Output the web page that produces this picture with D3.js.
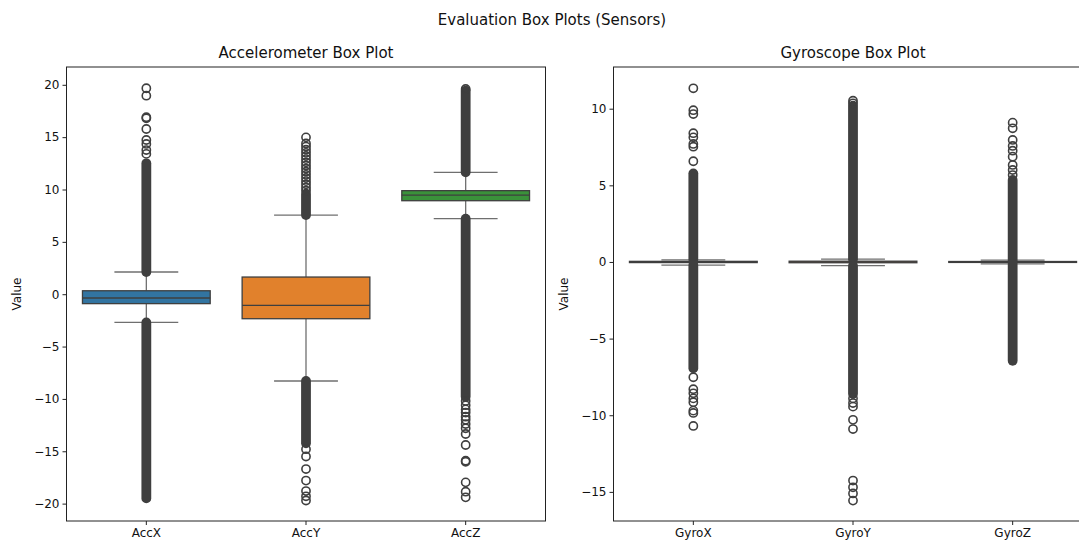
<!DOCTYPE html>
<html>
<head>
<meta charset="utf-8">
<script src="https://cdn.jsdelivr.net/npm/d3@7"></script>
<style>
  body { margin: 0; background: #fff; }
  text { font-family: "DejaVu Sans", sans-serif; fill: #111; }
</style>
</head>
<body>
<script>
// Accelerometer
var accCategories = ["AccX", "AccY", "AccZ"];
var accQ1 = [-0.90, -2.34, 8.93];
var accMedian = [-0.36, -1.06, 9.47];
var accQ3 = [0.33, 1.64, 9.89];
var accWhiskerLow = [-2.69, -8.29, 7.21];
var accWhiskerHigh = [2.12, 7.56, 11.64];
// solid runs of overlapping fliers, [from, to]
var accDenseOutliers = [
    [[2.12, 12.5], [-19.5, -2.69]],
    [[7.56, 9.6], [-14.24, -8.29]],
    [[11.64, 19.45], [-9.8, 7.21]]
];
var accOutliers = [
    [13.4, 13.77, 14.35, 14.73, 15.78, 16.8, 16.9, 18.96, 19.67],
    [9.9, 10.2, 10.5, 10.8, 11.1, 11.4, 11.7, 12.0, 12.3, 12.6, 12.9, 13.2, 13.5, 13.8, 14.1, 14.4, 14.98,
     -14.8, -15.5, -16.7, -17.8, -18.8, -19.3, -19.7],
    [19.6, -10.2, -10.6, -11.0, -11.3, -11.7, -12.0, -12.4, -12.8, -13.35, -14.4, -15.9, -16.0,
     -17.97, -18.86, -19.4]
];
var accTicks = [-20, -15, -10, -5, 0, 5, 10, 15, 20];

// Gyroscope
var gyroCategories = ["GyroX", "GyroY", "GyroZ"];
var gyroQ1 = [-0.04, -0.05, -0.03];
var gyroMedian = [0.0, 0.0, 0.0];
var gyroQ3 = [0.04, 0.05, 0.03];
var gyroWhiskerLow = [-0.2, -0.24, -0.12];
var gyroWhiskerHigh = [0.14, 0.18, 0.12];
var gyroDenseOutliers = [
    [[0.14, 5.78], [-6.93, -0.2]],
    [[0.18, 10.2], [-8.6, -0.24]],
    [[0.12, 5.35], [-6.45, -0.12]]
];
var gyroOutliers = [
    [6.57, 7.52, 7.7, 8.13, 8.4, 9.65, 9.9, 11.33,
     -7.52, -8.3, -8.57, -8.9, -9.15, -9.7, -9.85, -10.7],
    [10.35, 10.52, -8.9, -9.2, -9.44,
     -10.3, -10.9, -14.26, -14.7, -15.1, -15.57],
    [5.67, 6.0, 6.33, 6.87, 7.26, 7.57, 7.96, 8.72, 9.09]
];
var gyroTicks = [-15, -10, -5, 0, 5, 10];

var palette = ["#3274a1", "#e1812c", "#3a923a"];
var lineColor = "#3f3f3f";

var W = 1079, H = 542;
var svg = d3.select("body").append("svg")
    .attr("width", W)
    .attr("height", H);

svg.append("text")
    .attr("x", 552)
    .attr("y", 25)
    .attr("text-anchor", "middle")
    .style("font-size", "15px")
    .text("Evaluation Box Plots (Sensors)");

function boxPanel(opt) {
    var top = 67, bottom = 521;
    var x = d3.scaleBand()
        .domain(opt.categories)
        .range([opt.left, opt.right]);
    var y = d3.scaleLinear()
        .domain(opt.domain)
        .range([bottom, top]);
    var bw = x.bandwidth();
    var g = svg.append("g");

    // title
    g.append("text")
        .attr("x", (opt.left + opt.right) / 2)
        .attr("y", 58)
        .attr("text-anchor", "middle")
        .style("font-size", "15px")
        .text(opt.title);

    var items = g.selectAll("g.item")
        .data(opt.categories)
        .enter()
        .append("g")
        .attr("class", "item");

    // whiskers
    items.append("line")
        .attr("x1", function(d) { return x(d) + bw / 2; })
        .attr("x2", function(d) { return x(d) + bw / 2; })
        .attr("y1", function(d, i) { return y(opt.whiskerHigh[i]); })
        .attr("y2", function(d, i) { return y(opt.q3[i]); })
        .attr("stroke", lineColor).attr("stroke-width", 1.3).attr("stroke-opacity", 0.75);
    items.append("line")
        .attr("x1", function(d) { return x(d) + bw / 2; })
        .attr("x2", function(d) { return x(d) + bw / 2; })
        .attr("y1", function(d, i) { return y(opt.q1[i]); })
        .attr("y2", function(d, i) { return y(opt.whiskerLow[i]); })
        .attr("stroke", lineColor).attr("stroke-width", 1.3).attr("stroke-opacity", 0.75);

    // caps
    [opt.whiskerHigh, opt.whiskerLow].forEach(function(arr) {
        items.append("line")
            .attr("x1", function(d) { return x(d) + bw * 0.3; })
            .attr("x2", function(d) { return x(d) + bw * 0.7; })
            .attr("y1", function(d, i) { return y(arr[i]); })
            .attr("y2", function(d, i) { return y(arr[i]); })
            .attr("stroke", lineColor).attr("stroke-width", 1.3).attr("stroke-opacity", 0.75);
    });

    // boxes
    items.append("rect")
        .attr("x", function(d) { return x(d) + bw * 0.1; })
        .attr("width", bw * 0.8)
        .attr("y", function(d, i) { return y(opt.q3[i]); })
        .attr("height", function(d, i) { return Math.max(y(opt.q1[i]) - y(opt.q3[i]), 0.5); })
        .attr("fill", function(d, i) { return palette[i]; })
        .attr("stroke", lineColor)
        .attr("stroke-width", 1.3);

    // medians
    items.append("line")
        .attr("x1", function(d) { return x(d) + bw * 0.1; })
        .attr("x2", function(d) { return x(d) + bw * 0.9; })
        .attr("y1", function(d, i) { return y(opt.median[i]); })
        .attr("y2", function(d, i) { return y(opt.median[i]); })
        .attr("stroke", lineColor).attr("stroke-width", 1.3);

    // dense flier runs
    var r = 4.9;
    items.selectAll("rect.dense")
        .data(function(d, i) {
            return opt.dense[i].map(function(s) { return {cat: d, lo: Math.min(s[0], s[1]), hi: Math.max(s[0], s[1])}; });
        })
        .enter()
        .append("rect")
        .attr("class", "dense")
        .attr("x", function(s) { return x(s.cat) + bw / 2 - r; })
        .attr("width", 2 * r)
        .attr("y", function(s) { return y(s.hi) - r; })
        .attr("height", function(s) { return y(s.lo) - y(s.hi) + 2 * r; })
        .attr("rx", r)
        .attr("fill", lineColor);

    // single fliers
    items.selectAll("circle")
        .data(function(d, i) {
            return opt.outliers[i].map(function(v) { return {cat: d, v: v}; });
        })
        .enter()
        .append("circle")
        .attr("cx", function(s) { return x(s.cat) + bw / 2; })
        .attr("cy", function(s) { return y(s.v); })
        .attr("r", 4.1)
        .attr("fill", "none")
        .attr("stroke", lineColor)
        .attr("stroke-width", 1.6);

    // axes
    var yAxis = g.append("g")
        .attr("transform", "translate(" + opt.left + ",0)")
        .call(d3.axisLeft(y).tickValues(opt.ticks).tickSize(4).tickPadding(3));
    var xAxis = g.append("g")
        .attr("transform", "translate(0," + bottom + ")")
        .call(d3.axisBottom(x).tickSize(4).tickPadding(3));
    [yAxis, xAxis].forEach(function(a) {
        a.select(".domain").remove();
        a.selectAll("line").attr("stroke", "#222").attr("stroke-width", 1);
        a.selectAll("text").style("font-size", "12px").attr("fill", "#111")
            .style("font-family", "'DejaVu Sans', sans-serif");
    });

    // frame
    g.append("rect")
        .attr("x", opt.left)
        .attr("y", top)
        .attr("width", opt.right - opt.left)
        .attr("height", bottom - top)
        .attr("fill", "none")
        .attr("stroke", "#222")
        .attr("stroke-width", 1);

    g.append("text")
        .attr("transform", "translate(" + (opt.left - 46) + "," + ((top + bottom) / 2) + ") rotate(-90)")
        .attr("text-anchor", "middle")
        .style("font-size", "12px")
        .text("Value");
}

boxPanel({
    title: "Accelerometer Box Plot",
    categories: accCategories,
    left: 66.5, right: 545.5,
    domain: [-21.66, 21.7],
    ticks: accTicks,
    q1: accQ1, median: accMedian, q3: accQ3,
    whiskerLow: accWhiskerLow, whiskerHigh: accWhiskerHigh,
    dense: accDenseOutliers, outliers: accOutliers
});

boxPanel({
    title: "Gyroscope Box Plot",
    categories: gyroCategories,
    left: 613.5, right: 1092.5,
    domain: [-16.9, 12.72],
    ticks: gyroTicks,
    q1: gyroQ1, median: gyroMedian, q3: gyroQ3,
    whiskerLow: gyroWhiskerLow, whiskerHigh: gyroWhiskerHigh,
    dense: gyroDenseOutliers, outliers: gyroOutliers
});
</script>
</body>
</html>
